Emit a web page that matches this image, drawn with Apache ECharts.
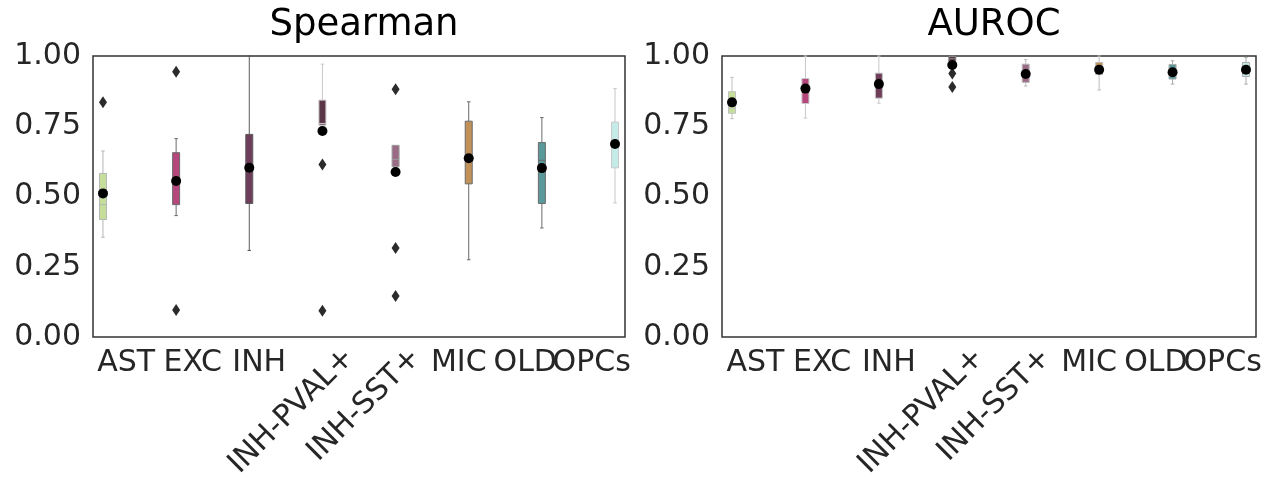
<!DOCTYPE html>
<html>
<head>
<meta charset="utf-8">
<script src="https://cdn.jsdelivr.net/npm/echarts@6/dist/echarts.min.js"></script>
<style>html,body{margin:0;padding:0;background:#fff;}#c{width:1269px;height:479px;}</style>
</head>
<body>
<div id="c"></div>
<script>
const categories = ['AST', 'EXC', 'INH', 'INH-PVAL+', 'INH-SST+', 'MIC', 'OLD', 'OPCs'];
const rotatedLabels = ['INH-PVAL+', 'INH-SST+'];
const yTicks = [0, 0.25, 0.5, 0.75, 1.0];

// [lower whisker, q1, median, q3, upper whisker]
const spearmanStats = [
  [0.355, 0.418, 0.471, 0.582, 0.662],
  [0.432, 0.471, 0.555, 0.656, 0.706],
  [0.308, 0.475, 0.590, 0.721, 1.000],
  [0.754, 0.754, 0.760, 0.843, 0.971],
  [0.606, 0.606, 0.632, 0.682, 0.682],
  [0.275, 0.545, 0.636, 0.768, 0.837],
  [0.388, 0.475, 0.629, 0.692, 0.781],
  [0.477, 0.602, 0.685, 0.765, 0.884]
];
const spearmanMeans = [0.511, 0.555, 0.602, 0.733, 0.587, 0.636, 0.601, 0.687];
const spearmanOutliers = [[0, 0.835], [1, 0.944], [1, 0.096], [3, 0.614], [3, 0.093], [4, 0.882], [4, 0.317], [4, 0.146]];

const aurocStats = [
  [0.777, 0.796, 0.813, 0.873, 0.924],
  [0.779, 0.831, 0.884, 0.920, 1.000],
  [0.832, 0.850, 0.900, 0.939, 1.000],
  [0.975, 0.982, 0.990, 0.998, 1.000],
  [0.893, 0.906, 0.936, 0.971, 0.987],
  [0.879, 0.934, 0.951, 0.977, 1.000],
  [0.900, 0.918, 0.942, 0.970, 0.983],
  [0.900, 0.927, 0.951, 0.977, 0.995]
];
const aurocMeans = [0.835, 0.884, 0.900, 0.968, 0.936, 0.951, 0.942, 0.951];
const aurocOutliers = [[3, 0.938], [3, 0.890]];

// styles
const boxColors = ['#c5df9b', '#b5477d', '#6e3d59', '#5b3548', '#9b6b85', '#c29158', '#5b9a9a', '#c4ebe8'];
const lineColorsLeft = ['#b5b5b5', '#6a6a6a', '#5a5a5a', '#c8c8c8', '#9a9a9a', '#6a6a6a', '#6a6a6a', '#c8c8c8'];
const lineColorsRight = ['#c0c0c0', '#c8c8c8', '#c8c8c8', '#888888', '#bbbbbb', '#bbbbbb', '#aaaaaa', '#aaaaaa'];

const nCat = categories.length;
const slot = 0.8 / nCat;
function dodge(i) { return i + (-0.4 + slot / 2) + slot * i; }

const FONT = 'DejaVu Sans';
const LABEL_COLOR = '#262626';

function boxRenderer(lineColors) {
  return function (params, api) {
    const i = api.value(0);
    const xv = dodge(i);
    const lo = api.coord([xv, api.value(1)]);
    const q1 = api.coord([xv, api.value(2)]);
    const md = api.coord([xv, api.value(3)]);
    const q3 = api.coord([xv, api.value(4)]);
    const hi = api.coord([xv, api.value(5)]);
    const hw = api.size([slot * 1.05, 0])[0] / 2;
    const cw = hw / 2;
    const lc = lineColors[i];
    const x = lo[0];
    const children = [];
    if (hi[1] < q3[1]) {
      children.push({ type: 'line', shape: { x1: x, y1: q3[1], x2: x, y2: hi[1] }, style: { stroke: lc, lineWidth: 1 } });
      children.push({ type: 'line', shape: { x1: x - cw, y1: hi[1], x2: x + cw, y2: hi[1] }, style: { stroke: lc, lineWidth: 1 } });
    }
    if (lo[1] > q1[1]) {
      children.push({ type: 'line', shape: { x1: x, y1: q1[1], x2: x, y2: lo[1] }, style: { stroke: lc, lineWidth: 1 } });
      children.push({ type: 'line', shape: { x1: x - cw, y1: lo[1], x2: x + cw, y2: lo[1] }, style: { stroke: lc, lineWidth: 1 } });
    }
    children.push({ type: 'rect', shape: { x: x - hw, y: q3[1], width: hw * 2, height: q1[1] - q3[1] }, style: { fill: boxColors[i], stroke: lc, lineWidth: 1 } });
    children.push({ type: 'line', shape: { x1: x - hw, y1: md[1], x2: x + hw, y2: md[1] }, style: { stroke: lc, lineWidth: 1 } });
    return { type: 'group', children: children };
  };
}

function panelSeries(g, stats, means, outliers, lineColors) {
  return [
    {
      type: 'custom', xAxisIndex: g * 2, yAxisIndex: g,
      renderItem: boxRenderer(lineColors),
      data: stats.map((s, i) => [i].concat(s)),
      encode: { x: 0, y: [1, 2, 3, 4, 5] },
      clip: false, z: 2, silent: true
    },
    {
      type: 'scatter', xAxisIndex: g * 2, yAxisIndex: g,
      data: outliers.map(o => [dodge(o[0]), o[1]]),
      symbol: 'diamond', symbolSize: [8, 12],
      itemStyle: { color: '#2b2b2b', opacity: 1 }, z: 3, silent: true
    },
    {
      type: 'scatter', xAxisIndex: g * 2, yAxisIndex: g,
      data: means.map((m, i) => [dodge(i), m]),
      symbol: 'circle', symbolSize: 10,
      itemStyle: { color: '#000', opacity: 1 }, z: 4, silent: true
    }
  ];
}

function xAxesFor(g) {
  return [
    { type: 'value', gridIndex: g, min: -0.5, max: nCat - 0.5, show: false },
    {
      type: 'category', gridIndex: g, data: categories, position: 'bottom',
      axisLine: { show: false }, axisTick: { show: false },
      axisLabel: { interval: 0, fontSize: 30, fontFamily: FONT, color: LABEL_COLOR, margin: 11,
        formatter: v => rotatedLabels.includes(v) ? '' : v }
    }
  ];
}

function yAxisFor(g) {
  return {
    type: 'value', gridIndex: g, min: yTicks[0], max: yTicks[yTicks.length - 1], interval: 0.25,
    axisLine: { show: false }, axisTick: { show: false }, splitLine: { show: false },
    axisLabel: { fontSize: 30, fontFamily: FONT, color: LABEL_COLOR, margin: 12, formatter: v => v.toFixed(2) }
  };
}

const chart = echarts.init(document.getElementById('c'), null, { renderer: 'canvas' });
chart.setOption({
  backgroundColor: '#fff',
  animation: false,
  title: [
    { text: 'Spearman', left: 359, top: 2, textAlign: 'center', textStyle: { fontFamily: FONT, fontSize: 37, fontWeight: 'normal', color: '#000' } },
    { text: 'AUROC', left: 989, top: 2, textAlign: 'center', textStyle: { fontFamily: FONT, fontSize: 37, fontWeight: 'normal', color: '#000' } }
  ],
  grid: [
    { left: 93, width: 532, top: 56, height: 281, show: true, borderColor: '#333', borderWidth: 1.5, backgroundColor: 'transparent' },
    { left: 722, width: 534, top: 56, height: 281, show: true, borderColor: '#333', borderWidth: 1.5, backgroundColor: 'transparent' }
  ],
  xAxis: xAxesFor(0).concat(xAxesFor(1)),
  yAxis: [yAxisFor(0), yAxisFor(1)],
  series: panelSeries(0, spearmanStats, spearmanMeans, spearmanOutliers, lineColorsLeft)
    .concat(panelSeries(1, aurocStats, aurocMeans, aurocOutliers, lineColorsRight))
});

// rotated tick labels, anchored at the category ticks via the axis scale
const rotatedTexts = [];
[0, 1].forEach(g => {
  const yBottom = chart.convertToPixel({ yAxisIndex: g }, yTicks[0]);
  rotatedLabels.forEach(name => {
    const x = chart.convertToPixel({ xAxisIndex: g * 2 + 1 }, name);
    rotatedTexts.push({
      type: 'text', x: x + 24, y: yBottom + 16, rotation: Math.PI / 4, silent: true,
      style: { text: name, align: 'right', verticalAlign: 'middle', fontSize: 30, fontFamily: FONT, fill: LABEL_COLOR }
    });
  });
});
chart.setOption({ graphic: rotatedTexts });
</script>
</body>
</html>
